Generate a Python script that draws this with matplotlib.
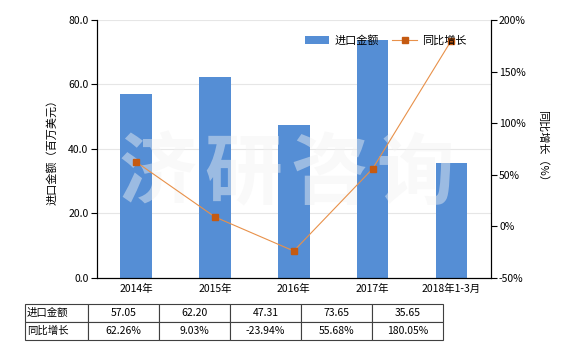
import matplotlib.pyplot as plt
import numpy as np

plt.rcParams["font.family"] = ["Noto Sans CJK SC", "DejaVu Sans"]
plt.rcParams["axes.unicode_minus"] = False

categories = ["2014年", "2015年", "2016年", "2017年", "2018年1-3月"]
import_value = [57.05, 62.20, 47.31, 73.65, 35.65]
growth_pct = [62.26, 9.03, -23.94, 55.68, 180.05]
row_labels = ["进口金额", "同比增长"]

bar_color = "#558ED5"
line_color = "#E8914A"
marker_color = "#C55A11"

fig = plt.figure(figsize=(5.8, 3.5), dpi=100)
ax = fig.add_axes([0.167, 0.206, 0.679, 0.737])
x = np.arange(len(categories))

ax.bar(x, import_value, width=0.4, color=bar_color, zorder=2, label="进口金额")
ax.set_xlim(-0.5, len(categories) - 0.5)
ax.set_ylim(0, 80)
ax.set_yticks(np.arange(0, 81, 20))
ax.set_yticklabels([f"{v:.1f}" for v in np.arange(0, 81, 20)], fontsize=7.5)
ax.set_xticks(x)
ax.set_xticklabels(categories, fontsize=7.5)
ax.tick_params(axis="x", length=0, pad=4)
ax.tick_params(axis="y", length=4, pad=2)
ax.grid(axis="y", color="#E6E6E6", linewidth=0.8, zorder=0)
ax.spines["top"].set_visible(False)
ax.set_ylabel("进口金额（百万美元）", fontsize=8, labelpad=8)

ax2 = ax.twinx()
ax2.plot(x, growth_pct, color=line_color, linewidth=0.8, marker="s",
         markersize=4, markerfacecolor=marker_color, markeredgecolor=marker_color,
         zorder=3, label="同比增长")
ax2.set_ylim(-50, 200)
ax2.set_yticks(np.arange(-50, 201, 50))
ax2.set_yticklabels([f"{v}%" for v in range(-50, 201, 50)], fontsize=7.5)
ax2.tick_params(axis="y", length=4, pad=2)
ax2.spines["top"].set_visible(False)
ax2.set_ylabel("同比增长（%）", fontsize=8, rotation=-90, labelpad=16)

# watermark, drawn on top of bars
for i, ch in enumerate("济研咨询"):
    ax2.text(157 / 580 + i * 86 / 580, 0.50, ch, transform=fig.transFigure,
             fontsize=56, color="#F2F2F2", alpha=0.45, ha="center",
             va="center", fontweight="bold", zorder=1)

h1, l1 = ax.get_legend_handles_labels()
h2, l2 = ax2.get_legend_handles_labels()
ax2.legend(h1 + h2, l1 + l2, loc="center right", bbox_to_anchor=(0.965, 0.92),
           ncol=2, frameon=False, fontsize=8, handlelength=2.2,
           columnspacing=1.2, handletextpad=0.5)

# data table under the chart
tax = fig.add_axes([25 / 580, 1 - 340 / 350, 418 / 580, 36 / 350])
tax.axis("off")
cells = [[row_labels[0]] + [f"{v:.2f}" for v in import_value],
         [row_labels[1]] + [f"{v:.2f}%" for v in growth_pct]]
tbl = tax.table(cellText=cells, bbox=[0, 0, 1, 1], cellLoc="center",
                colWidths=[63] + [71] * 5)
tbl.auto_set_font_size(False)
for (r, c), cell in tbl.get_celld().items():
    cell.set_fontsize(7.5)
    cell.set_edgecolor("#404040")
    cell.set_linewidth(0.8)
    if c == 0:
        cell.get_text().set_ha("left")
        cell.PAD = 0.03

fig.savefig("out.png", dpi=100)
